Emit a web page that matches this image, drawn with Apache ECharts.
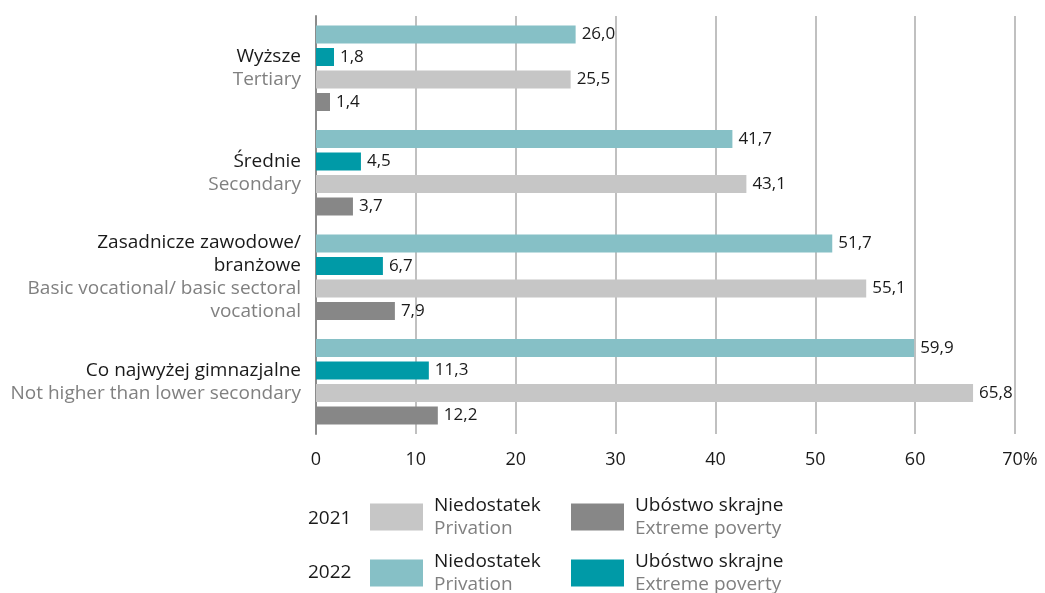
<!DOCTYPE html>
<html>
<head>
<meta charset="utf-8">
<script src="https://cdn.jsdelivr.net/npm/echarts@6/dist/echarts.min.js"></script>
<style>
  html, body { margin: 0; padding: 0; background: #fff; }
  #chart { width: 1045px; height: 593px; }
</style>
</head>
<body>
<div id="chart"></div>
<script>
// categories, top to bottom
const plLabels = ["Wyższe", "Średnie", "Zasadnicze zawodowe/\nbranżowe", "Co najwyżej gimnazjalne"]
const enLabels = ["Tertiary", "Secondary", "Basic vocational/ basic sectoral\nvocational", "Not higher than lower secondary"]

// values in %
const privation2022 = [26.0, 41.7, 51.7, 59.9]
const extreme2022 = [1.8, 4.5, 6.7, 11.3]
const privation2021 = [25.5, 43.1, 55.1, 65.8]
const extreme2021 = [1.4, 3.7, 7.9, 12.2]

const xTicks = [0, 10, 20, 30, 40, 50, 60, 70]

const FONT = "Open Sans"
const TXT = "#1a1a1a"
const GREY_TXT = "#808080"

const colors = {
    priv22: "#86c0c6",
    ext22: "#009aa7",
    priv21: "#c6c6c6",
    ext21: "#878787",
}

const fmt = v => v.toFixed(1).replace(".", ",")

function bar(name, data, color) {
    return {
        name,
        type: "bar",
        data,
        color,
        barWidth: 18,
        barGap: "25%",
        label: {
            show: true,
            position: "right",
            distance: 6,
            fontFamily: FONT,
            fontSize: 17,
            color: TXT,
            formatter: p => fmt(p.value),
        },
    }
}

const series = [
    bar("Niedostatek 2022", privation2022, colors.priv22),
    bar("Ubóstwo skrajne 2022", extreme2022, colors.ext22),
    bar("Niedostatek 2021", privation2021, colors.priv21),
    bar("Ubóstwo skrajne 2021", extreme2021, colors.ext21),
]

const legendText = {
    "Niedostatek 2021": ["Niedostatek", "Privation"],
    "Ubóstwo skrajne 2021": ["Ubóstwo skrajne", "Extreme poverty"],
    "Niedostatek 2022": ["Niedostatek", "Privation"],
    "Ubóstwo skrajne 2022": ["Ubóstwo skrajne", "Extreme poverty"],
}

function legend(name, left, top) {
    return {
        data: [name],
        left,
        top,
        icon: "rect",
        itemWidth: 53,
        itemHeight: 27,
        itemGap: 0,
        selectedMode: false,
        padding: 0,
        formatter: n => "{a|" + legendText[n][0] + "}\n{b|" + legendText[n][1] + "}",
        textStyle: {
            padding: [0, 0, 0, 6],
            rich: {
                a: { fontFamily: FONT, fontSize: 19, color: TXT, lineHeight: 23 },
                b: { fontFamily: FONT, fontSize: 19, color: GREY_TXT, lineHeight: 23 },
            },
        },
    }
}

const chart = echarts.init(document.getElementById("chart"), null, { renderer: "canvas" })

chart.setOption({
    animation: false,
    grid: { left: 316, right: 30, top: 16, bottom: 159 },
    xAxis: {
        type: "value",
        min: xTicks[0],
        max: xTicks[xTicks.length - 1],
        interval: 10,
        axisLine: { show: false },
        axisTick: { show: false },
        splitLine: { lineStyle: { color: "#ababab", width: 1.5 } },
        axisLabel: {
            margin: 17,
            fontFamily: FONT,
            fontSize: 18,
            color: TXT,
            formatter: v => (v === 70 ? "{p|" + v + "%}" : "" + v),
            rich: {
                p: { fontFamily: FONT, fontSize: 18, color: TXT, padding: [0, 0, 0, 10] },
            },
        },
    },
    yAxis: {
        type: "category",
        inverse: true,
        data: plLabels,
        axisLine: { show: true, lineStyle: { color: "#8c8c8c", width: 2 } },
        axisTick: { show: false },
        axisLabel: {
            margin: 15,
            formatter: (v, i) => {
                const pl = plLabels[i].split("\n").map(l => "{pl|" + l + "}")
                const en = enLabels[i].split("\n").map(l => "{en|" + l + "}")
                return pl.concat(en).join("\n")
            },
            rich: {
                pl: { fontFamily: FONT, fontSize: 19, color: TXT, lineHeight: 23, align: "right" },
                en: { fontFamily: FONT, fontSize: 19, color: GREY_TXT, lineHeight: 23, align: "right" },
            },
        },
    },
    legend: [
        legend("Niedostatek 2021", 370, 496),
        legend("Ubóstwo skrajne 2021", 571, 496),
        legend("Niedostatek 2022", 370, 552),
        legend("Ubóstwo skrajne 2022", 571, 552),
    ],
    graphic: [
        { type: "text", left: 308, top: 509, style: { text: "2021", fontFamily: FONT, fontSize: 19, fill: TXT } },
        { type: "text", left: 308, top: 563, style: { text: "2022", fontFamily: FONT, fontSize: 19, fill: TXT } },
    ],
    series,
})
</script>
</body>
</html>
